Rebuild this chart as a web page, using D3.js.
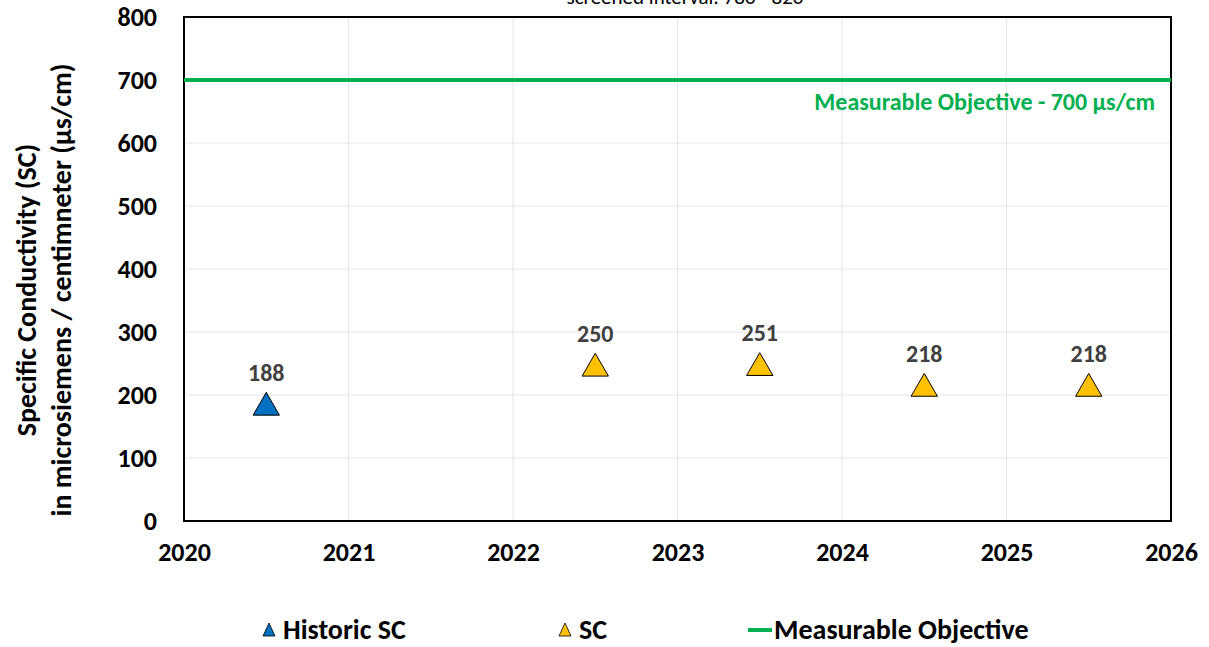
<!DOCTYPE html>
<html>
<head>
<meta charset="utf-8">
<script src="https://cdn.jsdelivr.net/npm/d3@7/dist/d3.min.js"></script>
<style>
  html, body { margin: 0; padding: 0; background: #fff; }
  svg text { font-family: Carlito, Calibri, Lato, "Open Sans", sans-serif; }
</style>
</head>
<body>
<svg id="chart" width="1209" height="647"></svg>
<script>
// Specific conductivity readings
const historicYears = [2020.5];
const historicValues = [188];
const scYears = [2022.5, 2023.5, 2024.5, 2025.5];
const scValues = [250, 251, 218, 218];
const objectiveValue = 700;
const xTicks = [2020, 2021, 2022, 2023, 2024, 2025, 2026];
const yTicks = [0, 100, 200, 300, 400, 500, 600, 700, 800];
const legendLabels = ["Historic SC", "SC", "Measurable Objective"];

const svg = d3.select("#chart");
const m = { left: 184, right: 1171, top: 17, bottom: 521 };

const x = d3.scaleLinear().domain([2020, 2026]).range([m.left, m.right]);
const y = d3.scaleLinear().domain([0, 800]).range([m.bottom, m.top]);

// Subtitle (sits at the very top edge)
svg.append("text")
  .attr("x", 685).attr("y", 4)
  .attr("text-anchor", "middle")
  .attr("font-size", 21).attr("fill", "#000")
  .text("screened interval: 780 - 820");

// Gridlines
svg.append("g").selectAll("line").data(yTicks.slice(1, -1)).join("line")
  .attr("x1", m.left).attr("x2", m.right)
  .attr("y1", d => y(d)).attr("y2", d => y(d))
  .attr("stroke", "#e6e6e6").attr("stroke-width", 1);
svg.append("g").selectAll("line").data(xTicks.slice(1, -1)).join("line")
  .attr("y1", m.top).attr("y2", m.bottom)
  .attr("x1", d => x(d)).attr("x2", d => x(d))
  .attr("stroke", "#e6e6e6").attr("stroke-width", 1);

// Plot border
svg.append("rect")
  .attr("x", m.left).attr("y", m.top)
  .attr("width", m.right - m.left).attr("height", m.bottom - m.top)
  .attr("fill", "none").attr("stroke", "#000").attr("stroke-width", 2);

// Axes
const yAxis = svg.append("g").attr("transform", `translate(${m.left},0)`)
  .call(d3.axisLeft(y).tickValues(yTicks).tickSize(0).tickPadding(27).tickFormat(d3.format("d")));
yAxis.select(".domain").remove();
yAxis.selectAll("text").attr("font-size", 26).attr("font-weight", "bold").attr("fill", "#000")
  .style("font-family", "Carlito, Calibri, Lato, sans-serif");

const xAxis = svg.append("g").attr("transform", `translate(0,${m.bottom})`)
  .call(d3.axisBottom(x).tickValues(xTicks).tickSize(0).tickPadding(22).tickFormat(d3.format("d")));
xAxis.select(".domain").remove();
xAxis.selectAll("text").attr("font-size", 26).attr("font-weight", "bold").attr("fill", "#000")
  .style("font-family", "Carlito, Calibri, Lato, sans-serif");

// Y axis title
const yTitle = svg.append("text")
  .attr("transform", "translate(0,290) rotate(-90)")
  .attr("text-anchor", "middle")
  .attr("font-size", 28).attr("font-weight", "bold").attr("fill", "#000");
yTitle.append("tspan").attr("x", 0).attr("y", 36).text("Specific Conductivity (SC)");
yTitle.append("tspan").attr("x", 0).attr("y", 71).text("in microsiemens / centimneter (µs/cm)");

// Objective line
svg.append("line")
  .attr("x1", m.left).attr("x2", m.right)
  .attr("y1", y(objectiveValue)).attr("y2", y(objectiveValue))
  .attr("stroke", "#00B050").attr("stroke-width", 4);
svg.append("text")
  .attr("x", 1155).attr("y", y(objectiveValue) + 30)
  .attr("text-anchor", "end")
  .attr("font-size", 24).attr("font-weight", "bold").attr("fill", "#00B050")
  .text("Measurable Objective - 700 µs/cm");

// Triangle markers (d3 triangles sit on their centroid; shift so the box is centred on the value)
const tri = d3.symbol().type(d3.symbolTriangle).size(300);

function drawSeries(years, values, color) {
  const g = svg.append("g");
  const pts = years.map((yr, i) => ({ yr, v: values[i] }));
  g.selectAll("path").data(pts).join("path")
    .attr("d", tri)
    .attr("transform", d => `translate(${x(d.yr)},${y(d.v) + 5})`)
    .attr("fill", color).attr("stroke", "#000").attr("stroke-width", 1);
  g.selectAll("text").data(pts).join("text")
    .attr("x", d => x(d.yr)).attr("y", d => y(d.v) - 22)
    .attr("text-anchor", "middle")
    .attr("font-size", 24).attr("font-weight", "bold").attr("fill", "#404040")
    .text(d => d.v);
}
drawSeries(historicYears, historicValues, "#0070C0");
drawSeries(scYears, scValues, "#FFC000");

// Legend
const legY = 630;
const smallTri = "M0,-7L6,6L-6,6Z";
svg.append("path").attr("d", smallTri)
  .attr("transform", `translate(269,${legY})`)
  .attr("fill", "#0070C0").attr("stroke", "#000").attr("stroke-width", 0.8);
svg.append("text").attr("x", 283).attr("y", legY + 9)
  .attr("font-size", 28).attr("font-weight", "bold").attr("fill", "#000").text(legendLabels[0]);
svg.append("path").attr("d", smallTri)
  .attr("transform", `translate(565,${legY})`)
  .attr("fill", "#FFC000").attr("stroke", "#000").attr("stroke-width", 0.8);
svg.append("text").attr("x", 579).attr("y", legY + 9)
  .attr("font-size", 28).attr("font-weight", "bold").attr("fill", "#000").text(legendLabels[1]);
svg.append("line").attr("x1", 748).attr("x2", 772).attr("y1", legY).attr("y2", legY)
  .attr("stroke", "#00B050").attr("stroke-width", 4);
svg.append("text").attr("x", 774).attr("y", legY + 9)
  .attr("font-size", 28).attr("font-weight", "bold").attr("fill", "#000").text(legendLabels[2]);
</script>
</body>
</html>
